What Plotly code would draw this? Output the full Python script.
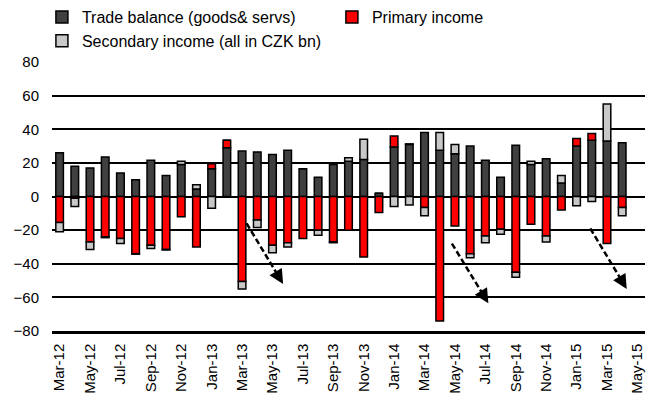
import plotly.graph_objects as go

months = ["Mar-12", "Apr-12", "May-12", "Jun-12", "Jul-12", "Aug-12", "Sep-12", "Oct-12",
          "Nov-12", "Dec-12", "Jan-13", "Feb-13", "Mar-13", "Apr-13", "May-13", "Jun-13",
          "Jul-13", "Aug-13", "Sep-13", "Oct-13", "Nov-13", "Dec-13", "Jan-14", "Feb-14",
          "Mar-14", "Apr-14", "May-14", "Jun-14", "Jul-14", "Aug-14", "Sep-14", "Oct-14",
          "Nov-14", "Dec-14", "Jan-15", "Feb-15", "Mar-15", "Apr-15", "May-15"]

trade = [26, 18, 17, 23.5, 14, 10, 21.5, 12.5, 19, 4.5, 16.5, 29, 27, 26.5, 25, 27.5,
         16.5, 11.5, 19, 21, 22, 2, 29.5, 31, 38, 27.5, 25.5, 30, 21.5, 11.5, 30.5, 19,
         22.5, 8, 30, 33.5, 33, 32, None]

primary = [-15.5, -1, -27, -24, -25, -34, -29, -31.5, -12, -30, 3, 4.5, -50.5, -14, -29, -27.5,
           -25, -20, -27, -20, -36, -9.5, 6.5, 0.3, -6.5, -74, -17.5, -34, -23.5, -19.5, -45, -16.5,
           -23.5, -8, 4.5, 4, -28, -6.5, None]

secondary = [-5.5, -5, -4.5, -0.5, -3, -0.3, -2, -0.3, 2, 2.5, -7, 0, -4.5, -4.5, -4.5, -2.5,
             0, -3, -0.5, 2, 12, 0, -6, -5, -5, 10.5, 5.5, -2.5, -4, -3, -3, 2,
             -3.5, 4.5, -5.5, -3, 22, -5, None]

tick_labels = months[::2]
y_ticks = [-80, -60, -40, -20, 0, 20, 40, 60, 80]

# dashed trend arrows: (x0 index, y0, x1 index, y1)
arrows = [(12.3, -16, 14.7, -52), (25.8, -28, 28.2, -63.5), (34.9, -19, 37.3, -55)]

FONT = "Liberation Sans, Arial, sans-serif"

fig = go.Figure()
series = [("Trade balance (goods& servs)", trade, "#404040"),
          ("Primary income", primary, "#FF0000"),
          ("Secondary income (all in CZK bn)", secondary, "#C8C8C8")]
for name, vals, col in series:
    fig.add_trace(go.Bar(x=months, y=vals, name=name,
                         marker=dict(color=col, line=dict(color="black", width=1.5))))

for x0, y0, x1, y1 in arrows:
    fig.add_shape(type="line", x0=x0, y0=y0, x1=x1 - (x1 - x0) * 0.1, y1=y1 - (y1 - y0) * 0.1,
                  xref="x", yref="y", line=dict(color="black", width=2.5, dash="6px,3px"))
    fig.add_annotation(x=x1, y=y1, ax=x1 - (x1 - x0) * 0.15, ay=y1 - (y1 - y0) * 0.15,
                       xref="x", yref="y", axref="x", ayref="y", text="",
                       showarrow=True, arrowhead=2, arrowsize=1.15, arrowwidth=2.5,
                       arrowcolor="black")

fig.update_layout(
    width=658, height=406,
    margin=dict(l=52, r=13, t=62, b=75, autoexpand=False),
    barmode="relative", bargap=0.5,
    plot_bgcolor="white", paper_bgcolor="white",
    font=dict(family=FONT, size=15, color="black"),
    legend=dict(orientation="h", x=-0.017, xanchor="left", y=1.23, yanchor="top",
                entrywidth=245, font=dict(size=16, family=FONT, color="black"),
                itemclick=False, traceorder="normal", bgcolor="rgba(0,0,0,0)"),
    xaxis=dict(type="category", categoryorder="array", categoryarray=months,
               tickmode="array", tickvals=tick_labels, ticktext=tick_labels,
               tickangle=-90, showgrid=False, showline=True, linecolor="black",
               linewidth=2.5, ticks="", ticklabelstandoff=4,
               tickfont=dict(size=15, family=FONT, color="black")),
    yaxis=dict(range=[-80, 80], tickmode="array", tickvals=y_ticks,
               showgrid=True, gridcolor="black", gridwidth=2,
               zeroline=True, zerolinecolor="black", zerolinewidth=2,
               showline=False, ticks="", ticklabelstandoff=12,
               tickfont=dict(size=15, family=FONT, color="black")),
)

fig.write_html("out.html")
